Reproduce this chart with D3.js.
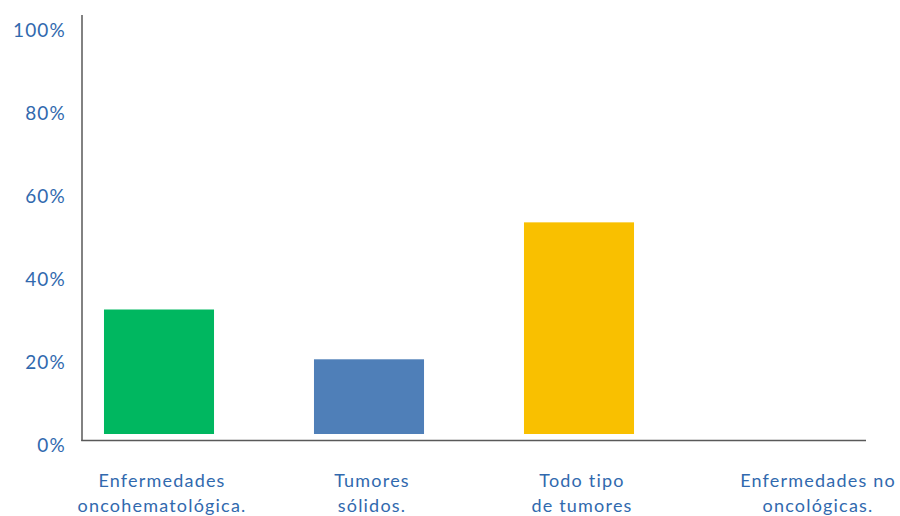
<!DOCTYPE html>
<html>
<head>
<meta charset="utf-8">
<script src="https://cdn.jsdelivr.net/npm/d3@7/dist/d3.min.js"></script>
<style>
  html, body { margin: 0; padding: 0; background: #fff; }
  svg { display: block; }
  text { font-family: "Lato", "Open Sans", sans-serif; font-weight: 400; fill: #3169AE; }
</style>
</head>
<body>
<svg id="chart" width="900" height="516"></svg>
<script>
// Share of patients per disease group
const categories = [
  ["Enfermedades", "oncohematológica."],
  ["Tumores", "sólidos."],
  ["Todo tipo", "de tumores"],
  ["Enfermedades no", "oncológicas."]
];
const values = [30, 18, 51, 0];
const barColors = ["#00B760", "#4F7FB8", "#F9C000", "#A5A5A5"];
const tickValues = [0, 20, 40, 60, 80, 100];

const svg = d3.select("#chart");

const x = d3.scaleBand()
  .domain(d3.range(categories.length))
  .range([54, 894])
  .paddingInner(0.476)
  .paddingOuter(0.238);

const y = d3.scaleLinear().domain([0, 100]).range([434, 19]);

// bars
svg.append("g").selectAll("rect")
  .data(values)
  .join("rect")
  .attr("x", (d, i) => x(i))
  .attr("width", x.bandwidth())
  .attr("y", d => y(d))
  .attr("height", d => y(0) - y(d))
  .attr("fill", (d, i) => barColors[i]);

// y axis: labels only, line drawn separately
const yAxis = d3.axisLeft(y)
  .tickValues(tickValues)
  .tickFormat(d => d + "%")
  .tickSize(0)
  .tickPadding(0);

const gy = svg.append("g")
  .attr("transform", "translate(66,11)")
  .call(yAxis);
gy.select(".domain").remove();
gy.selectAll("text")
  .style("font-size", "19px")
  .attr("fill", "#3169AE")
  .style("letter-spacing", "1.2px");

// axis lines
svg.append("line")
  .attr("x1", 82).attr("x2", 82)
  .attr("y1", 15).attr("y2", 441)
  .attr("stroke", "#595959").attr("stroke-width", 1.5);
svg.append("line")
  .attr("x1", 81.25).attr("x2", 866)
  .attr("y1", 440.5).attr("y2", 440.5)
  .attr("stroke", "#595959").attr("stroke-width", 1.5);

// category labels (two lines each)
const labels = svg.append("g").selectAll("text")
  .data(categories)
  .join("text")
  .attr("text-anchor", "middle")
  .style("font-size", "18px")
  .style("letter-spacing", "1.2px")
  .attr("transform", (d, i) => `translate(${x(i) + x.bandwidth() / 2 + 3 + (i === 3 ? 26 : 0)},0)`);

labels.selectAll("tspan")
  .data(d => d)
  .join("tspan")
  .attr("x", 0)
  .attr("y", (d, j) => 487 + j * 25)
  .text(d => d);
</script>
</body>
</html>
